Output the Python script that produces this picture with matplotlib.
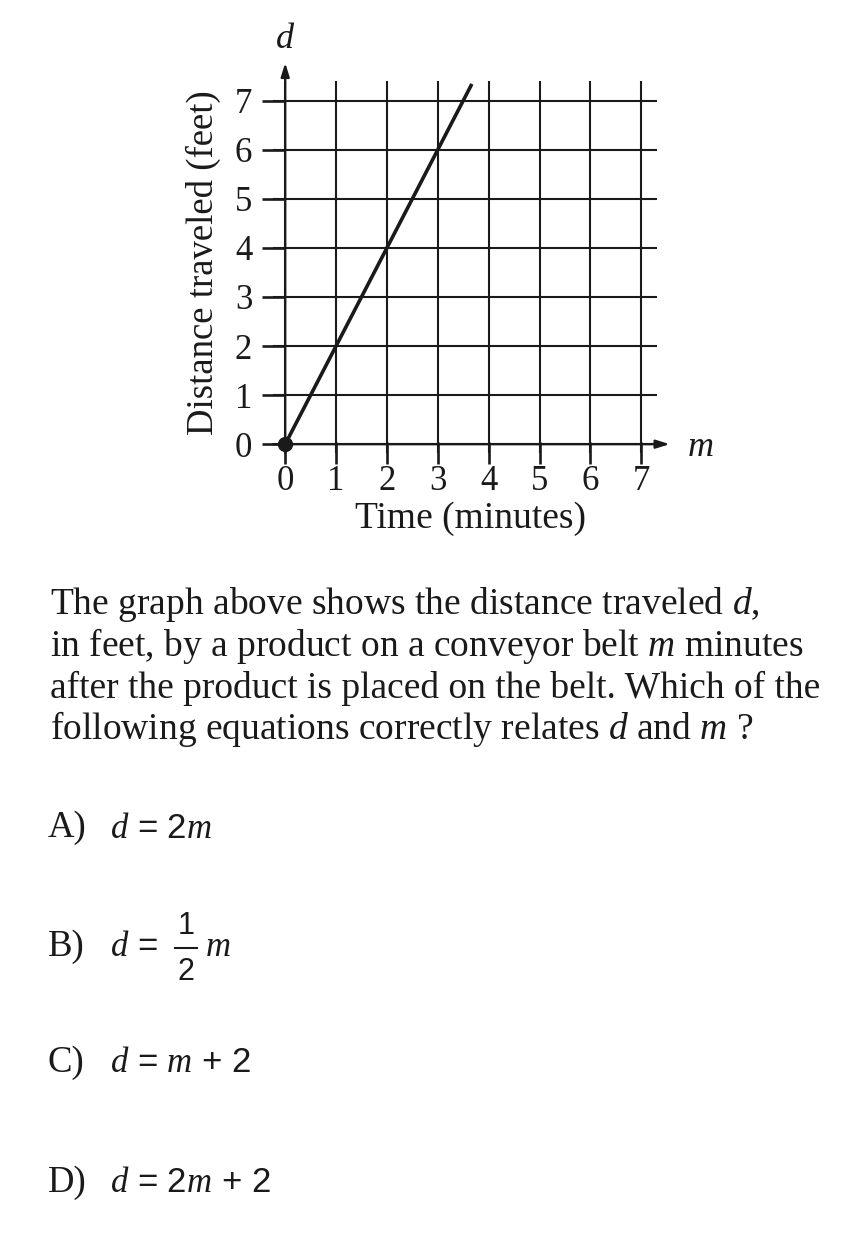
import matplotlib
matplotlib.use("Agg")
import matplotlib.pyplot as plt
from matplotlib.lines import Line2D

plt.rcParams['font.family'] = 'Liberation Serif'
plt.rcParams['mathtext.fontset'] = 'custom'
plt.rcParams['mathtext.it'] = 'Liberation Serif:italic'
plt.rcParams['mathtext.rm'] = 'Liberation Serif'

# data
ticks = [0, 1, 2, 3, 4, 5, 6, 7]
m_vals = [0, 3.67]
d_vals = [0, 7.34]

question = [
    "The graph above shows the distance traveled $d$,",
    "in feet, by a product on a conveyor belt $m$ minutes",
    "after the product is placed on the belt. Which of the",
    "following equations correctly relates $d$ and $m$ ?",
]
choice_letters = ["A)", "B)", "C)", "D)"]

W, H = 862, 1246
fig = plt.figure(figsize=(W / 100, H / 100), dpi=100)

# chart axes, placed in pixels
x0, x1, y0, y1 = 273, 657, 81, 453
ax = fig.add_axes([x0 / W, 1 - y1 / H, (x1 - x0) / W, (y1 - y0) / H])
ax.set_xlim(-0.24, 7.31)
ax.set_ylim(-0.18, 7.4)
for s in ax.spines.values():
    s.set_visible(False)
ax.set_xticks(ticks)
ax.set_yticks(ticks)
ax.set_xticklabels([str(t) for t in ticks])
ax.set_yticklabels([str(t) for t in ticks])
ax.tick_params(direction='inout', length=16, width=1.9, labelsize=25, colors='#1a1a1a')
ax.tick_params(axis='y', pad=7)
ax.tick_params(axis='x', pad=1)
ax.grid(True, color='#1a1a1a', linewidth=1.5)
ax.set_axisbelow(True)

# axes with arrows
ax.annotate('', xy=(7.56, 0), xytext=(-0.24, 0), annotation_clip=False,
            arrowprops=dict(arrowstyle='-|>,head_length=0.8,head_width=0.25',
                            color='#1a1a1a', lw=1.7, shrinkA=0, shrinkB=0))
ax.annotate('', xy=(0, 7.77), xytext=(0, -0.18), annotation_clip=False,
            arrowprops=dict(arrowstyle='-|>,head_length=0.8,head_width=0.25',
                            color='#1a1a1a', lw=1.7, shrinkA=0, shrinkB=0))

ax.plot(m_vals, d_vals, color='#1a1a1a', lw=2.6, solid_capstyle='butt', zorder=3)
ax.plot([0], [0], 'o', color='#1a1a1a', markersize=10, zorder=4, clip_on=False)

# overlay in pixel coordinates for text
ov = fig.add_axes([0, 0, 1, 1], facecolor='none')
ov.set_xlim(0, W)
ov.set_ylim(H, 0)
ov.axis('off')

col = '#1a1a1a'
ov.text(285, 40, '$d$', fontsize=26, ha='center', va='center', color=col)
ov.text(700, 447, '$m$', fontsize=26, ha='center', va='center', color=col)
ov.text(203, 263, 'Distance traveled (feet)', fontsize=26.5, rotation=90,
        ha='center', va='center', color=col)
ov.text(471, 519, 'Time (minutes)', fontsize=27, ha='center', va='center', color=col)

baselines = [614, 656, 698, 739]
for line, yb in zip(question, baselines):
    ov.text(50, yb, line, fontsize=27, ha='left', va='baseline', color=col)

# answer choices
sans = 'Liberation Sans'
fs = 25
ys = [828, 947, 1063, 1183]
for letter, yc in zip(choice_letters, ys):
    ov.text(48, yc, letter, fontsize=26.5, ha='left', va='center', color=col)

ov.text(110, ys[0], '$d$ = 2$m$', fontsize=fs, family=sans, ha='left', va='center', color=col)

ov.text(110, ys[1], '$d$ =', fontsize=fs, family=sans, ha='left', va='center', color=col)
ov.text(186, 926, '1', fontsize=22, family=sans, ha='center', va='center', color=col)
ov.text(186, 972, '2', fontsize=22, family=sans, ha='center', va='center', color=col)
ov.add_line(Line2D([175, 197], [948, 948], color=col, lw=1.5))
ov.text(205, ys[1], '$m$', fontsize=fs, ha='left', va='center', color=col)

ov.text(110, ys[2], '$d$ = $m$ + 2', fontsize=fs, family=sans, ha='left', va='center', color=col)
ov.text(110, ys[3], '$d$ = 2$m$ + 2', fontsize=fs, family=sans, ha='left', va='center', color=col)

fig.savefig('out.png', dpi=100, facecolor='white')
